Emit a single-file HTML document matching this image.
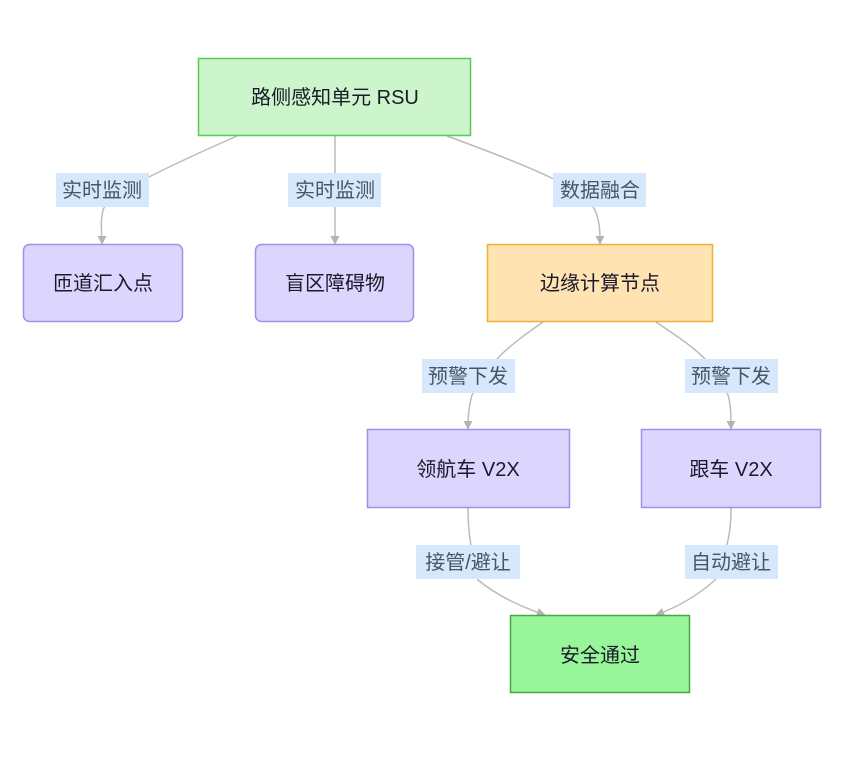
<!DOCTYPE html>
<html><head><meta charset="utf-8"><style>
html,body{margin:0;padding:0;background:#fff;}
svg text{font-family:"Liberation Sans","Noto Sans CJK SC",sans-serif;}
</style></head><body>
<svg width="844" height="752" viewBox="0 0 844 752" xmlns="http://www.w3.org/2000/svg">
<defs>
<marker id="a" viewBox="0 0 10 10" refX="9" refY="5" markerWidth="9" markerHeight="9" markerUnits="userSpaceOnUse" orient="auto">
<path d="M0,0 L10,5 L0,10 z" fill="#b3b3bb"/></marker>
</defs>
<g fill="none" stroke="#bbbbbb" stroke-width="1.5" marker-end="url(#a)">
<path d="M237,136 C160,170 108,195 103,210 C100,222 102,232 102,244"/>
<path d="M335,136 L335,244"/>
<path d="M447,136 C540,170 585,190 595,210 C600,222 600,232 600,244"/>
<path d="M543,322 C510,345 490,360 472,395 C469,405 468,418 468,429"/>
<path d="M656,322 C690,345 715,360 728,395 C731,405 731,418 731,429"/>
<path d="M468,508 C468,530 470,545 478,580 C500,598 525,608 545,615"/>
<path d="M731,508 C731,530 729,545 715,580 C695,598 675,608 656,615"/>
</g>
<g stroke-width="1.5">
<rect x="198.5" y="58.5" width="272" height="77" fill="#ccf5cc" stroke="#55cc55"/>
<rect x="23.5" y="244.5" width="159" height="77" rx="6" fill="#dcd6ff" stroke="#9f8fe6"/>
<rect x="255.5" y="244.5" width="158" height="77" rx="6" fill="#dcd6ff" stroke="#9f8fe6"/>
<rect x="487.5" y="244.5" width="225" height="77" fill="#ffe3b3" stroke="#f0b030"/>
<rect x="367.5" y="429.5" width="202" height="78" fill="#dcd6ff" stroke="#9f8fe6"/>
<rect x="641.5" y="429.5" width="179" height="78" fill="#dcd6ff" stroke="#9f8fe6"/>
<rect x="510.5" y="615.5" width="179" height="77" fill="#99f599" stroke="#44aa44"/>
</g>
<g fill="#d6e8fb">
<rect x="56" y="173" width="93" height="34"/>
<rect x="288" y="173" width="93" height="34"/>
<rect x="553" y="173" width="93" height="34"/>
<rect x="422" y="359" width="93" height="34"/>
<rect x="685" y="359" width="93" height="34"/>
<rect x="416" y="545" width="104" height="34"/>
<rect x="685" y="545" width="93" height="34"/>
</g>
<g font-size="20" text-anchor="middle" fill="#4a5468">
<text x="102" y="197">实时监测</text>
<text x="335" y="197">实时监测</text>
<text x="600" y="197">数据融合</text>
<text x="468" y="383">预警下发</text>
<text x="731" y="383">预警下发</text>
<text x="468" y="569">接管/避让</text>
<text x="731" y="569">自动避让</text>
</g>
<g font-size="20" text-anchor="middle" fill="#1a1a2a">
<text x="335" y="104">路侧感知单元 RSU</text>
<text x="103" y="290">匝道汇入点</text>
<text x="335" y="290">盲区障碍物</text>
<text x="600" y="290">边缘计算节点</text>
<text x="468" y="476">领航车 V2X</text>
<text x="731" y="476">跟车 V2X</text>
<text x="600" y="662">安全通过</text>
</g>
</svg>
</body></html>
